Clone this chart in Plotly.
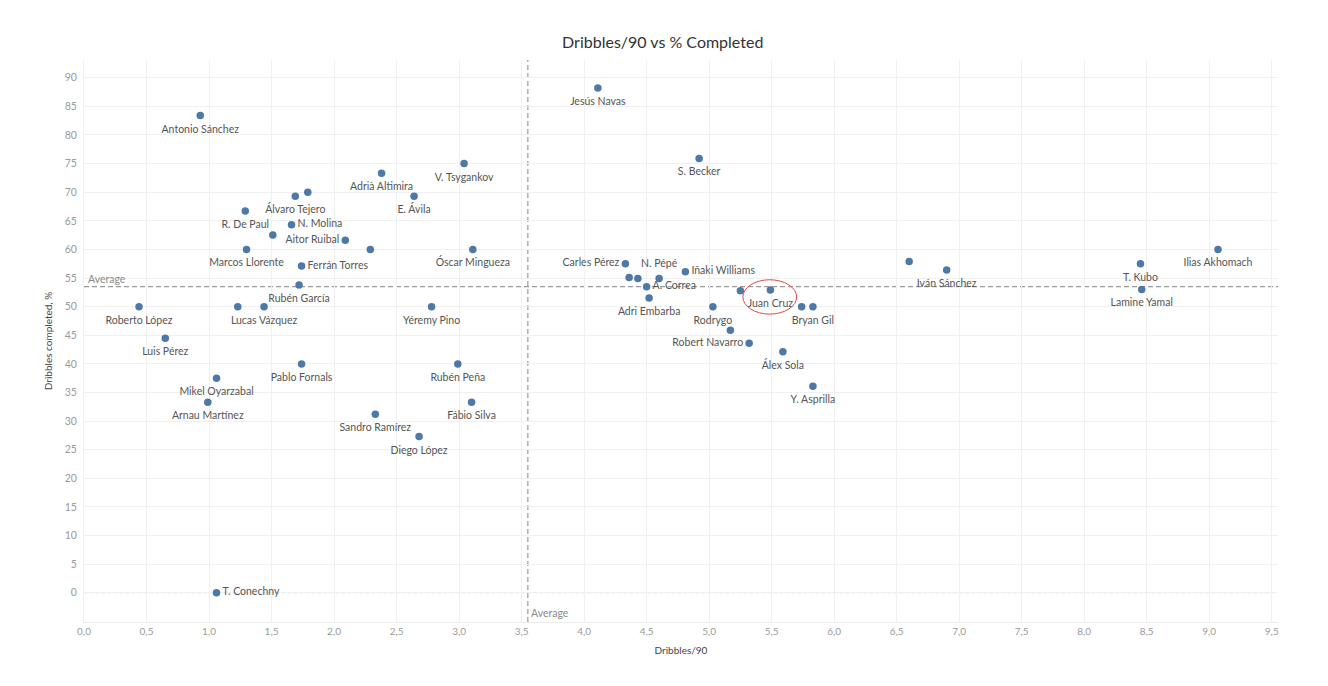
import plotly.graph_objects as go

# ---- data ----
players = [
    "Jesús Navas", "Antonio Sánchez", "S. Becker", "V. Tsygankov", "Adrià Altimira",
    "Álvaro Tejero", "", "E. Ávila", "R. De Paul", "N. Molina", "", "Aitor Ruibal", "",
    "Marcos Llorente", "Óscar Mingueza", "Ferrán Torres", "Rubén García", "Roberto López",
    "", "Lucas Vázquez", "Yéremy Pino", "Luis Pérez", "Pablo Fornals", "Rubén Peña",
    "Mikel Oyarzabal", "Arnau Martínez", "Fábio Silva", "Sandro Ramírez", "Diego López",
    "T. Conechny", "Carles Pérez", "", "", "N. Pépé", "Iñaki Williams", "A. Correa",
    "Adri Embarba", "Rodrygo", "", "Juan Cruz", "", "Bryan Gil", "", "Robert Navarro",
    "Álex Sola", "Y. Asprilla", "", "Iván Sánchez", "T. Kubo", "Lamine Yamal",
    "Ilias Akhomach",
]
dribbles_90 = [
    4.11, 0.93, 4.92, 3.04, 2.38,
    1.69, 1.79, 2.64, 1.29, 1.66, 1.51, 2.09, 2.29,
    1.30, 3.11, 1.74, 1.72, 0.44,
    1.23, 1.44, 2.78, 0.65, 1.74, 2.99,
    1.06, 0.99, 3.10, 2.33, 2.68,
    1.06, 4.33, 4.36, 4.43, 4.60, 4.81, 4.50,
    4.52, 5.03, 5.25, 5.49, 5.74, 5.83, 5.17, 5.32,
    5.59, 5.83, 6.60, 6.90, 8.45, 8.46,
    9.07,
]
completed_pct = [
    88.2, 83.4, 75.9, 75.0, 73.3,
    69.3, 70.0, 69.3, 66.7, 64.3, 62.5, 61.6, 60.0,
    60.0, 60.0, 57.1, 53.8, 50.0,
    50.0, 50.0, 50.0, 44.5, 40.0, 40.0,
    37.5, 33.3, 33.3, 31.2, 27.3,
    0.0, 57.5, 55.1, 54.9, 54.9, 56.1, 53.5,
    51.5, 50.0, 52.8, 52.9, 50.0, 50.0, 45.9, 43.6,
    42.1, 36.1, 57.9, 56.4, 57.5, 53.0,
    60.0,
]
# label placement (style)
label_pos = [
    "bottom center", "bottom center", "bottom center", "bottom center", "bottom center",
    "bottom center", "bottom center", "bottom center", "bottom center", "middle right",
    "bottom center", "middle left", "bottom center",
    "bottom center", "bottom center", "middle right", "bottom center", "bottom center",
    "bottom center", "bottom center", "bottom center", "bottom center", "bottom center",
    "bottom center",
    "bottom center", "bottom center", "bottom center", "bottom center", "bottom center",
    "middle right", "middle left", "bottom center", "bottom center", "top center",
    "middle right", "middle right",
    "bottom center", "bottom center", "bottom center", "bottom center", "bottom center",
    "bottom center", "bottom center", "middle left",
    "bottom center", "bottom center", "bottom center", "bottom center", "bottom center",
    "bottom center",
    "bottom center",
]

avg_dribbles = 3.55
avg_completed = 53.5
highlight_player = "Juan Cruz"

x_ticks = [i * 0.5 for i in range(20)]
x_tick_text = [f"{v:.1f}".replace(".", ",") for v in x_ticks]
y_ticks = list(range(0, 95, 5))

FONT = "Lato, 'Open Sans', sans-serif"
DOT = "#4E79A7"
DASH = "5px,3px"

# label gap: invisible marker sizes drive the text offset
label_gap = [8 if p.startswith("middle") else 13 for p in label_pos]

fig = go.Figure()
fig.add_trace(go.Scatter(
    x=dribbles_90, y=completed_pct, mode="markers+text",
    text=players, textposition=label_pos,
    textfont=dict(family=FONT, size=10.5, color="#555555"),
    marker=dict(size=label_gap, color="rgba(0,0,0,0)", line=dict(width=0)),
    hoverinfo="skip", showlegend=False, cliponaxis=False,
))
fig.add_trace(go.Scatter(
    x=dribbles_90, y=completed_pct, mode="markers",
    marker=dict(size=7.5, color=DOT, line=dict(width=0)),
    hoverinfo="skip", showlegend=False, cliponaxis=False,
))

# average reference lines
fig.add_shape(type="line", xref="paper", yref="y", x0=0, x1=1,
              y0=avg_completed, y1=avg_completed,
              line=dict(color="#9a9a9a", width=1.2, dash=DASH), layer="below")
fig.add_shape(type="line", xref="x", yref="paper", x0=avg_dribbles, x1=avg_dribbles,
              y0=0, y1=1, line=dict(color="#9a9a9a", width=1.2, dash=DASH), layer="below")
# dotted zero line
fig.add_shape(type="line", xref="paper", yref="y", x0=0, x1=1, y0=0, y1=0,
              line=dict(color="#dddddd", width=1, dash="dot"), layer="below")

fig.add_annotation(xref="paper", yref="y", x=0.002, y=avg_completed, text="Average",
                   showarrow=False, xanchor="left", yanchor="bottom", yshift=0,
                   font=dict(family=FONT, size=10.5, color="#8a8a8a"))
fig.add_annotation(xref="x", yref="paper", x=avg_dribbles, y=0, text="Average",
                   showarrow=False, xanchor="left", yanchor="bottom", xshift=1, yshift=1,
                   font=dict(family=FONT, size=10.5, color="#8a8a8a"))

# highlight ellipse around Juan Cruz
hi = players.index(highlight_player)
hx, hy = dribbles_90[hi], completed_pct[hi]
fig.add_shape(type="circle", xref="x", yref="y",
              x0=hx - 0.22, x1=hx + 0.21, y0=hy - 4.2, y1=hy + 1.8,
              line=dict(color="#e04a4a", width=1))

fig.update_layout(
    width=1320, height=678,
    margin=dict(l=76, r=50, t=52, b=64),
    paper_bgcolor="white", plot_bgcolor="white",
    font=dict(family=FONT, size=10, color="#555555"),
    title=dict(text="Dribbles/90 vs % Completed", x=0.496, xanchor="center",
               y=0.949, yanchor="middle",
               font=dict(family=FONT, size=16, color="#333333")),
)
fig.update_xaxes(
    range=[0, 9.55], tickvals=x_ticks, ticktext=x_tick_text,
    showgrid=True, gridcolor="#f0f0f0", gridwidth=1, zeroline=False,
    showline=True, linecolor="#ececec", linewidth=1, mirror=False,
    ticks="", tickfont=dict(family=FONT, size=10, color="#9a9a9a"),
    automargin=False,
    title=dict(text="Dribbles/90", standoff=10,
               font=dict(family=FONT, size=10, color="#444444")),
)
fig.update_yaxes(
    range=[-5.1, 93.1], tickvals=y_ticks,
    showgrid=True, gridcolor="#f0f0f0", gridwidth=1, zeroline=False,
    showline=True, linecolor="#f0f0f0", linewidth=1,
    ticks="", ticklabelstandoff=4, tickfont=dict(family=FONT, size=10.5, color="#9a9a9a"),
    automargin=False,
    title=dict(text="Dribbles completed, %", standoff=10,
               font=dict(family=FONT, size=10, color="#444444")),
)

fig.write_html("out.html")
